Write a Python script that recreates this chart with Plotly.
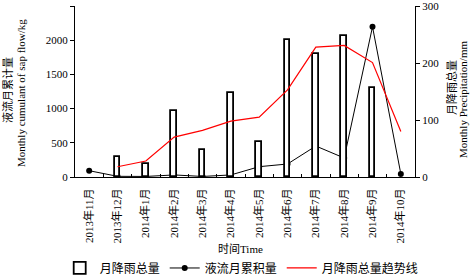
import plotly.graph_objects as go

months = ["2013年11月", "2013年12月", "2014年1月", "2014年2月", "2014年3月", "2014年4月",
          "2014年5月", "2014年6月", "2014年7月", "2014年8月", "2014年9月", "2014年10月"]
precip = [None, 36, 22, 116, 48, 148, 62, 241, 216, 247, 156, None]
sapflow = [92, 10, 8, 30, 8, 30, 151, 190, 453, 278, 2197, 45]
trend = [None, 18, 28, 70, 82, 98, 105, 153, 228, 231, 201, 80]

FONT = "Liberation Serif, Times New Roman, Noto Sans CJK SC, serif"

fig = go.Figure()
fig.add_trace(go.Bar(
    x=months, y=precip, name="月降雨总量", yaxis="y2",
    marker=dict(color="white", line=dict(color="black", width=1.8)),
    width=0.2,
))
fig.add_trace(go.Scatter(
    x=months, y=sapflow, name="液流月累积量", yaxis="y",
    mode="lines+markers", line=dict(color="black", width=1),
    marker=dict(color="black", size=6),
))
fig.add_trace(go.Scatter(
    x=months, y=trend, name="月降雨总量趋势线", yaxis="y2",
    mode="lines", line=dict(color="red", width=1.2),
))

fig.update_layout(
    width=472, height=276,
    margin=dict(l=75, r=57, t=6, b=99, autoexpand=False),
    paper_bgcolor="white", plot_bgcolor="white",
    font=dict(family=FONT, size=11, color="black"),
    showlegend=True,
    legend=dict(orientation="h", x=-0.045, xanchor="left", y=-0.532, yanchor="middle",
                font=dict(size=12), traceorder="normal", itemwidth=30,
                bgcolor="rgba(0,0,0,0)"),
    xaxis=dict(
        type="category", range=[-0.5, 11.5], tickangle=-90, automargin=False,
        showline=True, linecolor="black", linewidth=1,
        ticks="inside", tickson="boundaries", ticklen=3, tickcolor="black",
        showgrid=False, zeroline=False, ticklabelstandoff=6,
        tickfont=dict(size=11),
    ),
    yaxis=dict(
        range=[0, 2501], tickvals=[0, 500, 1000, 1500, 2000, 2500], automargin=False,
        showline=True, linecolor="black", linewidth=1,
        ticks="outside", ticklen=4, tickcolor="black", showgrid=False, zeroline=False,
        tickfont=dict(size=11),
    ),
    yaxis2=dict(
        range=[0, 300.3], tickvals=[0, 100, 200, 300], overlaying="y", side="right",
        automargin=False,
        showline=True, linecolor="black", linewidth=1,
        ticks="outside", ticklen=4, tickcolor="black", showgrid=False, zeroline=False,
        tickfont=dict(size=11),
    ),
    bargap=0,
)

annos = [
    dict(text="液流月累计量", x=7, y=90, angle=-90),
    dict(text="Monthly cumulant of sap flow/kg", x=21, y=93, angle=-90),
    dict(text="月降雨总量", x=451, y=88, angle=-90),
    dict(text="Monthly Precipitation/mm", x=463, y=100, angle=-90),
    dict(text="时间Time", x=240, y=249, angle=0),
]
for a in annos:
    fig.add_annotation(
        text=a["text"], xref="paper", yref="paper",
        x=(a["x"] - 75) / 340, y=(177 - a["y"]) / 171,
        xanchor="center", yanchor="middle", textangle=a["angle"],
        showarrow=False, font=dict(size=11, family=FONT, color="black"),
    )

fig.write_html("out.html", config={"displayModeBar": False},
               post_script="document.body.style.margin='0';document.body.style.overflow='hidden';")
